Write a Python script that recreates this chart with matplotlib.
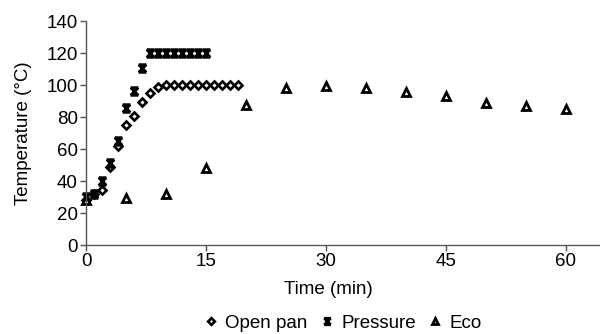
import matplotlib
matplotlib.use("Agg")
import matplotlib.pyplot as plt
from matplotlib.path import Path

plt.rcParams['font.family'] = ['Liberation Sans', 'DejaVu Sans']

open_t = list(range(0, 20))
open_T = [28, 32, 34.5, 49, 62, 75, 80.5, 89.5, 95, 99,
          100, 100, 100, 100, 100, 100, 100, 100, 100, 100]

press_t = list(range(0, 16))
press_T = [30, 32, 40, 51, 65, 85.5, 96.5, 110.5,
           120, 120, 120, 120, 120, 120, 120, 120]

eco_t = [0, 5, 10, 15, 20, 25, 30, 35, 40, 45, 50, 55, 60]
eco_T = [28, 29.5, 32, 48, 87.5, 98, 99.5, 98, 95.5, 93, 89, 87, 85]

xticks = [0, 15, 30, 45, 60]
yticks = [0, 20, 40, 60, 80, 100, 120, 140]

hourglass = Path([(-1, -1), (1, 1), (-1, 1), (1, -1), (-1, 1), (1, 1), (-1, -1), (1, -1)],
                 [Path.MOVETO, Path.LINETO, Path.MOVETO, Path.LINETO,
                  Path.MOVETO, Path.LINETO, Path.MOVETO, Path.LINETO])

FS = 13.5
fig = plt.figure(figsize=(6.0, 3.34), dpi=100)
ax = fig.add_axes([86/600, 1-245/334, 1-86/600, (245-21)/334])

ax.plot(open_t, open_T, linestyle='none', marker='D', markersize=4.0,
        markerfacecolor='white', markeredgecolor='black', markeredgewidth=1.9,
        label='Open pan', clip_on=False)
ax.plot(press_t, press_T, linestyle='none', marker=hourglass, markersize=5.5,
        markerfacecolor='none', markeredgecolor='black', markeredgewidth=2.0,
        label='Pressure', clip_on=False)
ax.plot(eco_t, eco_T, linestyle='none', marker='^', markersize=5.5,
        markerfacecolor='white', markeredgecolor='black', markeredgewidth=2.0,
        label='Eco', clip_on=False)

ax.set_xlim(0, 64.3)
ax.set_ylim(0, 140)
ax.set_xticks(xticks)
ax.set_yticks(yticks)
for s in ['top', 'right']:
    ax.spines[s].set_visible(False)
for s in ['left', 'bottom']:
    ax.spines[s].set_color('#555555')
    ax.spines[s].set_linewidth(1.0)
ax.tick_params(direction='out', length=4, width=1.0, color='#555555',
               labelsize=FS, labelcolor='black', pad=2)
ax.set_xlabel('Time (min)', fontsize=FS)
ax.set_ylabel('Temperature (°C)', fontsize=FS)
ax.xaxis.set_label_coords((328-86)/(600-86), -(289-245)/224, transform=ax.transAxes)
ax.xaxis.label.set_va('center')
ax.yaxis.set_label_coords(-(86-24)/514, 0.5, transform=ax.transAxes)
ax.yaxis.label.set_va('center')

fig.legend(loc='center', bbox_to_anchor=(344/600, 1-323/334), ncol=3, frameon=False,
           fontsize=FS, handlelength=0.5, handletextpad=0.5, columnspacing=0.8,
           borderpad=0, markerscale=0.85)

fig.savefig('out.png', dpi=100)
